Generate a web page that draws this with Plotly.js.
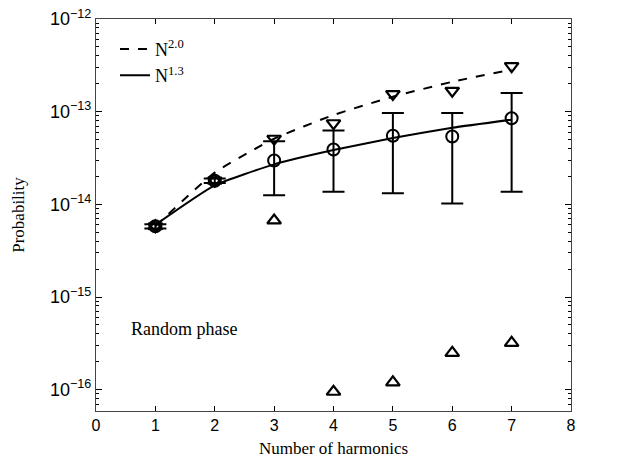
<!DOCTYPE html>
<html>
<head>
<meta charset="utf-8">
<script src="https://cdn.plot.ly/plotly-3.0.1.min.js"></script>
<style>html,body{margin:0;padding:0;background:#fff;}</style>
</head>
<body>
<div id="chart" style="width:632px;height:464px;"></div>
<script>
// harmonics
const harmonics = [1, 2, 3, 4, 5, 6, 7];
// measured probability (circles) with error bars
const probMean = [5.8e-15, 1.8e-14, 2.97e-14, 3.9e-14, 5.5e-14, 5.4e-14, 8.5e-14];
const probUpper = [6.1e-15, 1.9e-14, 4.8e-14, 6.25e-14, 9.7e-14, 9.7e-14, 1.59e-13];
const probLower = [5.5e-15, 1.7e-14, 1.25e-14, 1.37e-14, 1.32e-14, 1.02e-14, 1.37e-14];
// optimal phase (down triangles)
const probOptimal = [5.8e-15, 1.8e-14, 5.1e-14, 7.5e-14, 1.55e-13, 1.68e-13, 3.1e-13];
// random phase (up triangles)
const probRandom = [5.8e-15, 1.8e-14, 6.7e-15, 9.5e-17, 1.2e-16, 2.5e-16, 3.2e-16];
// curves
const curveN20 = [5.8e-15, 2.2e-14, 5.1e-14, 9.2e-14, 1.45e-13, 2.1e-13, 2.85e-13];
const curveN13 = [6.0e-15, 1.6e-14, 2.7e-14, 3.85e-14, 5.2e-14, 6.7e-14, 8.2e-14];
const legendN20 = 'N<sup>2.0</sup>';
const legendN13 = 'N<sup>1.3</sup>';
const yTickVals = [1e-16, 1e-15, 1e-14, 1e-13, 1e-12];
const yTickText = ['10<sup>\u221216</sup>', '10<sup>\u221215</sup>', '10<sup>\u221214</sup>', '10<sup>\u221213</sup>', '10<sup>\u221212</sup>'];

const errPlus = probUpper.map((u, i) => u - probMean[i]);
const errMinus = probMean.map((m, i) => m - probLower[i]);

const traces = [
  {x: harmonics, y: curveN20, mode: 'lines', name: legendN20, line: {color: '#000', width: 2, dash: 'dash', shape: 'spline', smoothing: 0.5}, showlegend: true},
  {x: harmonics, y: curveN13, mode: 'lines', name: legendN13, line: {color: '#000', width: 2, shape: 'spline', smoothing: 0.5}, showlegend: true},
  {x: harmonics, y: probMean, mode: 'markers', showlegend: false,
   marker: {symbol: 'circle-open', size: 12, color: '#000', line: {width: 2, color: '#000'}},
   error_y: {type: 'data', symmetric: false, array: errPlus, arrayminus: errMinus, color: '#000', thickness: 2, width: 11}},
  {x: harmonics, y: probOptimal, mode: 'markers', showlegend: false,
   marker: {symbol: 'triangle-down-open', size: 12, color: '#000', line: {width: 2.2, color: '#000'}}},
  {x: harmonics, y: probRandom, mode: 'markers', showlegend: false,
   marker: {symbol: 'triangle-up-open', size: 12, color: '#000', line: {width: 2.2, color: '#000'}}}
];

const layout = {
  width: 632, height: 464,
  margin: {l: 96, r: 61, t: 19, b: 53},
  paper_bgcolor: '#fff', plot_bgcolor: '#fff',
  showlegend: true,
  legend: {x: 0.04, y: 0.97, xanchor: 'left', yanchor: 'top', bgcolor: 'rgba(0,0,0,0)',
           font: {family: 'Liberation Serif', size: 18, color: '#000'}, tracegroupgap: 0},
  xaxis: {
    range: [0, 8], dtick: 1, tick0: 0,
    ticks: 'inside', ticklen: 5, tickcolor: '#000', mirror: 'ticks',
    showline: true, linecolor: '#444', linewidth: 1, showgrid: false, zeroline: false,
    tickfont: {family: 'Liberation Sans', size: 16, color: '#000'},
    title: {text: 'Number of harmonics', font: {family: 'Liberation Serif', size: 17, color: '#000'}, standoff: 8}
  },
  yaxis: {
    type: 'log', range: [-16.23, -12],
    tickvals: yTickVals, ticktext: yTickText,
    ticks: 'inside', ticklen: 6, tickcolor: '#000', mirror: 'ticks',
    minor: {ticks: 'inside', ticklen: 3, tickcolor: '#000', dtick: 'D1', showgrid: false},
    showline: true, linecolor: '#444', linewidth: 1, showgrid: false, zeroline: false,
    tickfont: {family: 'Liberation Sans', size: 18, color: '#000'},
    title: {text: 'Probability', font: {family: 'Liberation Serif', size: 17, color: '#000'}, standoff: 21}
  },
  annotations: [
    {x: 0.55, y: -15.35, xref: 'x', yref: 'y', text: 'Random phase', showarrow: false,
     xanchor: 'left', yanchor: 'middle', font: {family: 'Liberation Serif', size: 18, color: '#000'}}
  ]
};

Plotly.newPlot('chart', traces, layout, {displayModeBar: false, staticPlot: true});
</script>
</body>
</html>
